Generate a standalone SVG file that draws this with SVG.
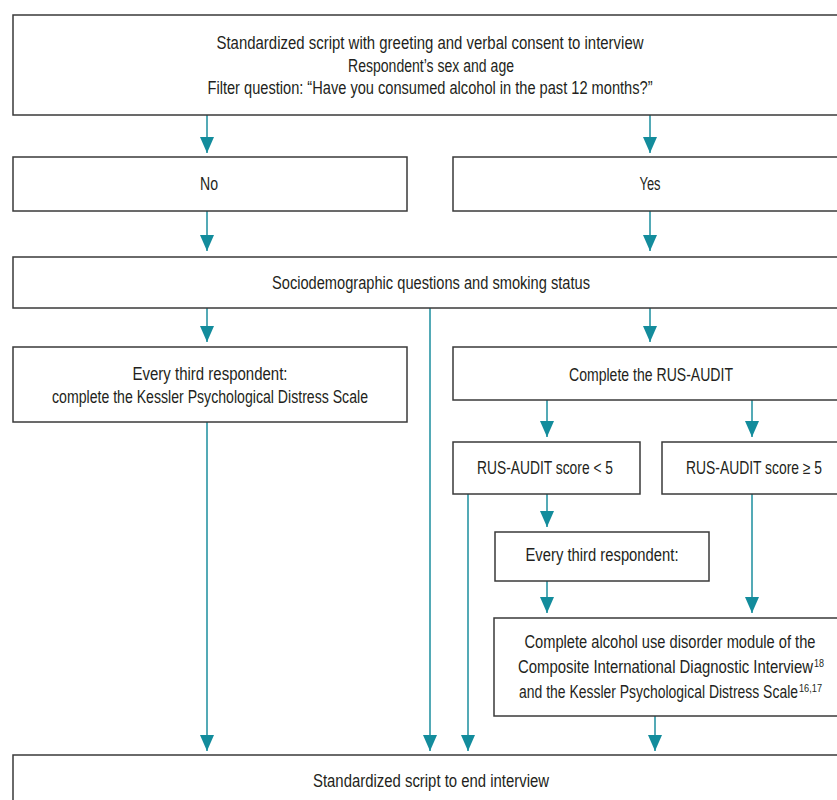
<svg xmlns="http://www.w3.org/2000/svg" width="837" height="800" viewBox="0 0 837 800">
<style>
.box{fill:#fff;stroke:#3a3a3a;stroke-width:1.5}
.t{font-family:"Liberation Sans",Arial,sans-serif;font-size:17.5px;fill:#231f20;text-anchor:middle}
.sup{font-family:"Liberation Sans",Arial,sans-serif;font-size:11px;fill:#231f20;text-anchor:start}
.c{stroke:#1b8e9e;stroke-width:1.5;fill:none}
</style>
<defs>
<marker id="ah" viewBox="0 -7 16 14" refX="16" refY="0" markerWidth="16" markerHeight="14" markerUnits="userSpaceOnUse" orient="auto">
<path d="M0,-7 L16,0 L0,7 z" fill="#138c9c"/>
</marker>
</defs>
<rect width="837" height="800" fill="#fff"/>
<g id="connectors">
<line class="c" x1="207" y1="115" x2="207" y2="153" marker-end="url(#ah)"/>
<line class="c" x1="650" y1="115" x2="650" y2="153" marker-end="url(#ah)"/>
<line class="c" x1="207" y1="211" x2="207" y2="251" marker-end="url(#ah)"/>
<line class="c" x1="650" y1="211" x2="650" y2="251" marker-end="url(#ah)"/>
<line class="c" x1="207" y1="308" x2="207" y2="342" marker-end="url(#ah)"/>
<line class="c" x1="650" y1="308" x2="650" y2="342" marker-end="url(#ah)"/>
<line class="c" x1="430" y1="308" x2="430" y2="751" marker-end="url(#ah)"/>
<line class="c" x1="547" y1="400" x2="547" y2="437" marker-end="url(#ah)"/>
<line class="c" x1="752" y1="400" x2="752" y2="437" marker-end="url(#ah)"/>
<line class="c" x1="207" y1="422" x2="207" y2="751" marker-end="url(#ah)"/>
<line class="c" x1="468" y1="494" x2="468" y2="751" marker-end="url(#ah)"/>
<line class="c" x1="547" y1="494" x2="547" y2="527" marker-end="url(#ah)"/>
<line class="c" x1="547" y1="581" x2="547" y2="613" marker-end="url(#ah)"/>
<line class="c" x1="752" y1="494" x2="752" y2="613" marker-end="url(#ah)"/>
<line class="c" x1="655" y1="716" x2="655" y2="751" marker-end="url(#ah)"/>
</g>
<g id="n_start">
<rect class="box" x="13" y="15" width="830" height="100"/>
<text class="t" x="430" y="49" textLength="427" lengthAdjust="spacingAndGlyphs">Standardized script with greeting and verbal consent to interview</text>
<text class="t" x="431" y="72" textLength="166" lengthAdjust="spacingAndGlyphs">Respondent’s sex and age</text>
<text class="t" x="430" y="94" textLength="445" lengthAdjust="spacingAndGlyphs">Filter question: “Have you consumed alcohol in the past 12 months?”</text>
</g>
<g id="n_no">
<rect class="box" x="13" y="157" width="394" height="54"/>
<text class="t" x="209" y="190" textLength="18" lengthAdjust="spacingAndGlyphs">No</text>
</g>
<g id="n_yes">
<rect class="box" x="453" y="157" width="390" height="54"/>
<text class="t" x="650" y="190" textLength="21" lengthAdjust="spacingAndGlyphs">Yes</text>
</g>
<g id="n_socio">
<rect class="box" x="13" y="257" width="830" height="51"/>
<text class="t" x="431" y="289" textLength="318" lengthAdjust="spacingAndGlyphs">Sociodemographic questions and smoking status</text>
</g>
<g id="n_kessler">
<rect class="box" x="13" y="347" width="394" height="75"/>
<text class="t" x="210" y="380" textLength="155" lengthAdjust="spacingAndGlyphs">Every third respondent:</text>
<text class="t" x="210" y="403" textLength="316" lengthAdjust="spacingAndGlyphs">complete the Kessler Psychological Distress Scale</text>
</g>
<g id="n_audit">
<rect class="box" x="453" y="347" width="390" height="53"/>
<text class="t" x="651" y="381" textLength="164" lengthAdjust="spacingAndGlyphs">Complete the RUS-AUDIT</text>
</g>
<g id="n_low">
<rect class="box" x="453" y="442" width="187" height="52"/>
<text class="t" x="545" y="474" textLength="136" lengthAdjust="spacingAndGlyphs">RUS-AUDIT score &lt; 5</text>
</g>
<g id="n_high">
<rect class="box" x="662" y="442" width="181" height="52"/>
<text class="t" x="754" y="474" textLength="136" lengthAdjust="spacingAndGlyphs">RUS-AUDIT score ≥ 5</text>
</g>
<g id="n_third">
<rect class="box" x="495" y="532" width="214" height="49"/>
<text class="t" x="602" y="561" textLength="153" lengthAdjust="spacingAndGlyphs">Every third respondent:</text>
</g>
<g id="n_cidi">
<rect class="box" x="494" y="618" width="349" height="98"/>
<text class="t" x="670" y="648" textLength="291" lengthAdjust="spacingAndGlyphs">Complete alcohol use disorder module of the</text>
<text class="t" x="665.5" y="673" textLength="295" lengthAdjust="spacingAndGlyphs">Composite International Diagnostic Interview</text>
<text class="sup" x="814" y="667" textLength="10" lengthAdjust="spacingAndGlyphs">18</text>
<text class="t" x="658.5" y="698" textLength="279" lengthAdjust="spacingAndGlyphs">and the Kessler Psychological Distress Scale</text>
<text class="sup" x="799" y="692" textLength="23" lengthAdjust="spacingAndGlyphs">16,17</text>
</g>
<g id="n_end">
<rect class="box" x="13" y="755" width="830" height="60"/>
<text class="t" x="431" y="787" textLength="236" lengthAdjust="spacingAndGlyphs">Standardized script to end interview</text>
</g>
</svg>
